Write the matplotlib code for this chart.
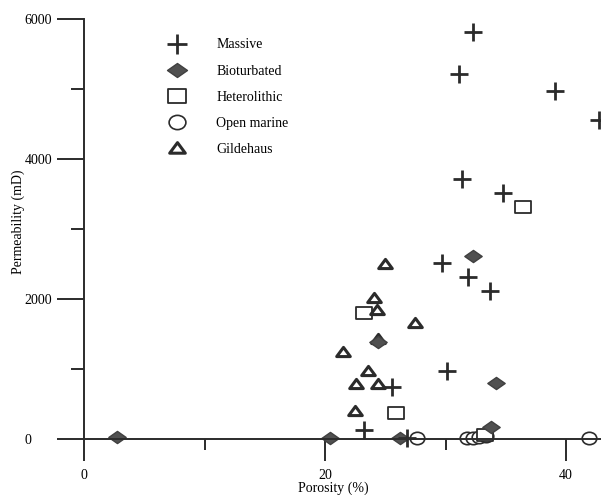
import matplotlib
matplotlib.use("Agg")
import matplotlib.pyplot as plt
from matplotlib.path import Path
from matplotlib.transforms import Affine2D

plt.rcParams['font.family'] = ['Liberation Serif', 'DejaVu Serif']
plt.rcParams['font.size'] = 10

# porosity (%) / permeability (mD)
massive_x = [32.3, 31.1, 39.1, 42.7, 31.4, 34.8, 29.7, 31.9, 33.7, 30.1, 25.6, 23.2, 26.8]
massive_y = [5810, 5210, 4970, 4560, 3710, 3510, 2510, 2310, 2110, 970, 740, 130, 20]

biot_x = [2.7, 20.4, 26.2, 32.3, 34.2, 33.8, 24.4]
biot_y = [30, 15, 15, 2610, 800, 170, 1390]

hetero_x = [36.4, 23.2, 25.9, 33.3]
hetero_y = [3310, 1800, 370, 60]

open_x = [27.6, 31.8, 32.3, 32.8, 33.4, 41.9]
open_y = [15, 20, 10, 30, 40, 20]

gild_x = [25.0, 24.1, 24.3, 27.5, 24.4, 21.5, 23.6, 22.6, 24.4, 22.5]
gild_y = [2500, 2010, 1850, 1660, 1430, 1240, 970, 790, 790, 400]


def poly(pts):
    # closed polygon marker
    return Path(pts + [pts[0]], closed=True)


# flattened marker shapes like the scanned original
diamond = poly([(-1, 0), (0, 0.7), (1, 0), (0, -0.7)])
rect = poly([(-1, -0.8), (1, -0.8), (1, 0.8), (-1, 0.8)])
tri = poly([(-1, -0.6), (1, -0.6), (0, 0.75)])
ellipse = Path.unit_circle().transformed(Affine2D().scale(1, 0.85))

ink = '#2b2b2b'
W, H = 601, 495
fig = plt.figure(figsize=(W / 100, H / 100), dpi=100)
# axes box in pixels: left 84 (x=0), right 620, top 10, bottom 470
ax = fig.add_axes([84 / W, (H - 470) / H, (620 - 84) / W, (470 - 10) / H])
xmax = (620 - 84) / 12.05
ax.set_xlim(0, xmax)
ax.set_ylim(-(470 - 439) / 0.07, 6000 + (19 - 10) / 0.07)

ax.plot(open_x, open_y, ls='none', marker=ellipse, ms=10.5, mfc='white', mec=ink, mew=1.2,
        clip_on=False, label='Open marine')
ax.plot(hetero_x, hetero_y, ls='none', marker=rect, ms=11.5, mfc='white', mec=ink, mew=1.3,
        clip_on=False, label='Heterolithic')
ax.plot(gild_x, gild_y, ls='none', marker=tri, ms=9.8, mfc='white', mec=ink, mew=2.2,
        clip_on=False, label='Gildehaus')
ax.plot(biot_x, biot_y, ls='none', marker=diamond, ms=12.5, mfc='#505050', mec='#404040', mew=1,
        clip_on=False, label='Bioturbated')
ax.plot(massive_x, massive_y, ls='none', marker='+', ms=12.5, mec=ink, mew=2,
        clip_on=False, label='Massive')

for s in ['top', 'right']:
    ax.spines[s].set_visible(False)
ax.spines['left'].set_bounds(0, 6000)
ax.spines['bottom'].set_position(('data', 0))
ax.spines['bottom'].set_bounds(0, xmax)
for s in ['left', 'bottom']:
    ax.spines[s].set_linewidth(1.4)
    ax.spines[s].set_color(ink)

ax.set_xticks([0, 20, 40])
ax.set_xticks([10, 30], minor=True)
ax.set_yticks([0, 2000, 4000, 6000])
ax.set_yticks([1000, 3000, 5000], minor=True)
ax.tick_params(axis='y', which='major', direction='out', length=19.4, width=1.4, color=ink, pad=23.5)
ax.tick_params(axis='y', which='minor', direction='out', length=9.4, width=1.4, color=ink)
ax.tick_params(axis='x', which='major', direction='out', length=15.8, width=1.4, color=ink, pad=6)
ax.tick_params(axis='x', which='minor', direction='out', length=8, width=1.4, color=ink)
plt.setp(ax.get_yticklabels(), ha='left')

fig.text(18 / W, 1 - 222 / H, 'Permeability (mD)', rotation=90, ha='center', va='center')
fig.text(333 / W, 1 - 488 / H, 'Porosity (%)', ha='center', va='center')

handles, labels = ax.get_legend_handles_labels()
order = ['Massive', 'Bioturbated', 'Heterolithic', 'Open marine', 'Gildehaus']
hl = dict(zip(labels, handles))
fig.legend([hl[k] for k in order], order, loc='upper left',
           bbox_to_anchor=(154 / W, 1 - 26 / H), frameon=False,
           handlelength=1.5, handletextpad=2.1, labelspacing=0.95, markerscale=1.15,
           borderpad=0.4)

fig.savefig('out.png', dpi=100)
